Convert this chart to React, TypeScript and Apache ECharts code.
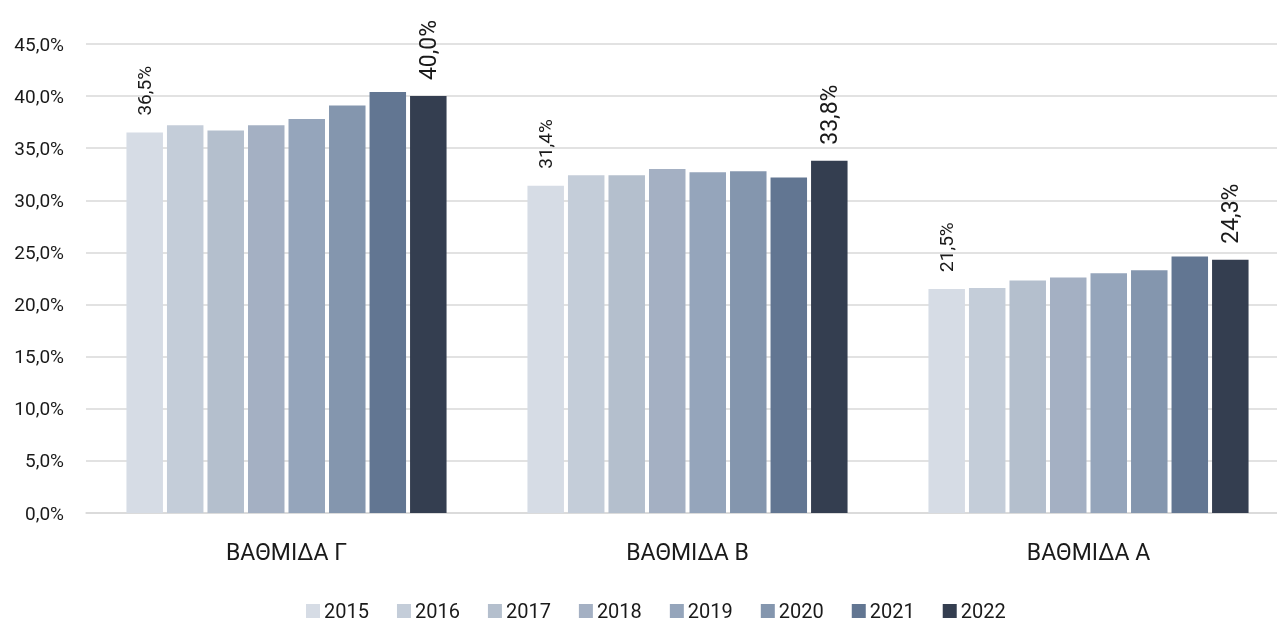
import React, { useEffect, useRef } from "react";
import * as echarts from "echarts";

const categories = ["ΒΑΘΜΙΔΑ Γ", "ΒΑΘΜΙΔΑ Β", "ΒΑΘΜΙΔΑ Α"];
const years = ["2015", "2016", "2017", "2018", "2019", "2020", "2021", "2022"];
const v2015 = [36.5, 31.4, 21.5];
const v2016 = [37.2, 32.4, 21.6];
const v2017 = [36.7, 32.4, 22.3];
const v2018 = [37.2, 33.0, 22.6];
const v2019 = [37.8, 32.7, 23.0];
const v2020 = [39.1, 32.8, 23.3];
const v2021 = [40.4, 32.2, 24.6];
const v2022 = [40.0, 33.8, 24.3];
const seriesValues = [v2015, v2016, v2017, v2018, v2019, v2020, v2021, v2022];
const colors = ["#d6dce5", "#c4cdd9", "#b4bfcd", "#a4b0c3", "#95a5bb", "#8496ae", "#627692", "#343e50"];
const yTicks = { min: 0, max: 45, interval: 5 };

const FONT = '"Roboto", "DejaVu Sans Condensed", sans-serif';
const fmt = (v: number) => v.toFixed(1).replace(".", ",") + "%";

export default function App() {
  const ref = useRef<HTMLDivElement>(null);
  useEffect(() => {
    if (!ref.current) return;
    const chart = echarts.init(ref.current, null, { renderer: "svg" });
    const labelFor = (i: number) => {
      if (i === 0) {
        return { show: true, position: "top", rotate: 90, align: "left", verticalAlign: "middle", distance: 17, fontSize: 19, color: "#1a1a1a", fontFamily: FONT, formatter: (p: any) => fmt(p.value) };
      }
      if (i === 7) {
        return { show: true, position: "top", rotate: 90, align: "left", verticalAlign: "middle", distance: 16, fontSize: 23, color: "#1a1a1a", fontFamily: FONT, formatter: (p: any) => fmt(p.value) };
      }
      return { show: false };
    };
    chart.setOption({
      animation: false,
      color: colors,
      textStyle: { fontFamily: FONT },
      grid: { left: 86, right: -12, top: 44, bottom: 113, containLabel: false, outerBoundsMode: "none" },
      legend: {
        data: years,
        bottom: 0,
        left: 301,
        icon: "rect",
        itemWidth: 14,
        itemHeight: 14,
        itemGap: 28,
        textStyle: { fontSize: 20, color: "#1a1a1a", fontFamily: FONT, padding: [0, 0, 0, -1] },
      },
      xAxis: {
        type: "category",
        data: categories,
        axisTick: { show: false },
        axisLine: { lineStyle: { color: "#d9d9d9", width: 1.5 } },
        axisLabel: { fontSize: 23, color: "#1a1a1a", margin: 28, fontFamily: FONT },
      },
      yAxis: {
        type: "value",
        min: yTicks.min,
        max: yTicks.max,
        interval: yTicks.interval,
        axisLine: { show: false },
        axisTick: { show: false },
        splitLine: { lineStyle: { color: "#d9d9d9", width: 1.5 } },
        axisLabel: { fontSize: 19, color: "#1a1a1a", margin: 22, fontFamily: FONT, formatter: (v: number) => fmt(v) },
      },
      series: years.map((y, i) => ({
        name: y,
        type: "bar",
        data: seriesValues[i],
        barWidth: 36.5,
        barGap: "11%",
        itemStyle: { color: colors[i] },
        label: labelFor(i),
      })),
    });
    return () => chart.dispose();
  }, []);
  return <div ref={ref} style={{ position: "fixed", left: 0, top: 0, width: 1277, height: 626 }} />;
}
